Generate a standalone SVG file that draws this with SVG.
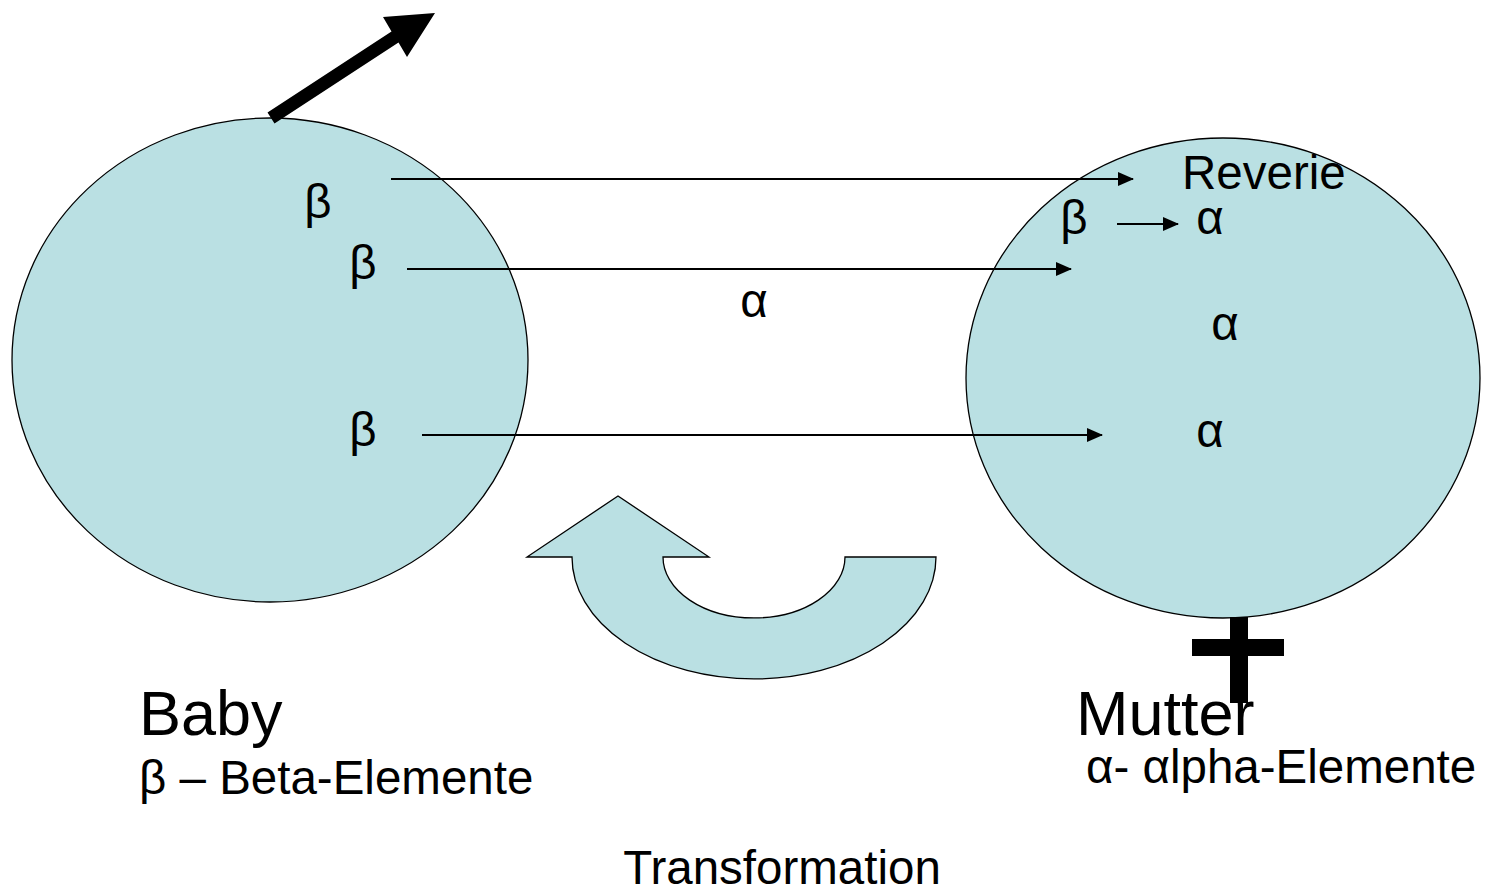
<svg xmlns="http://www.w3.org/2000/svg" width="1488" height="896" viewBox="0 0 1488 896">
<defs>
<style>
.blob{fill:#bae0e3;stroke:#000;stroke-width:1.3}
.t{font-family:"Liberation Sans",Arial,sans-serif;fill:#000}
.g{font-size:47.5px}
.m{font-size:47.5px;text-anchor:middle}
.big{font-size:63px}
.conn{stroke:#000;stroke-width:2;fill:none;marker-end:url(#ah)}
</style>
<marker id="ah" viewBox="0 0 16 14" refX="15" refY="7" markerWidth="16" markerHeight="14" markerUnits="userSpaceOnUse" orient="auto">
<path d="M0,0 L16,7 L0,14 Z" fill="#000"/>
</marker>
</defs>
<rect width="1488" height="896" fill="#fff"/>
<g id="baby">
<ellipse class="blob" cx="270" cy="360" rx="258" ry="242"/>
<text class="t m" x="318" y="218">β</text>
<text class="t m" x="363" y="279">β</text>
<text class="t m" x="363" y="446">β</text>
<text class="t big" x="139" y="735">Baby</text>
<text class="t g" x="139" y="794">β – Beta-Elemente</text>
</g>
<g id="mutter">
<ellipse class="blob" cx="1223" cy="378" rx="257" ry="240"/>
<text class="t g" x="1182" y="189">Reverie</text>
<text class="t m" x="1074" y="234">β</text>
<text class="t m" x="1210" y="234">α</text>
<text class="t m" x="1225" y="340">α</text>
<text class="t m" x="1210" y="447">α</text>
<text class="t big" x="1076" y="735">Mutter</text>
<text class="t g" x="1086" y="783">α- αlpha-Elemente</text>
<rect x="1230" y="617" width="18" height="86" fill="#000"/>
<rect x="1192" y="639" width="92" height="17" fill="#000"/>
</g>
<g id="outarrow">
<polygon points="267.5,112.5 391.5,31.5 383,17 435,13 407,57 398.5,42.5 274.5,123.5" fill="#000"/>
</g>
<g id="transformation">
<path class="blob" d="M572,557 L527,557 L618,496 L709,557 L663,557 A91,61 0 0 0 845,557 L936,557 A182,122 0 0 1 572,557 Z"/>
<text class="t m" x="782" y="884">Transformation</text>
</g>
<g id="connectors">
<line class="conn" x1="391" y1="179" x2="1133" y2="179"/>
<line class="conn" x1="407" y1="269" x2="1071" y2="269"/>
<line class="conn" x1="422" y1="435" x2="1102" y2="435"/>
<line class="conn" x1="1117" y1="224" x2="1178" y2="224"/>
<text class="t m" x="754" y="317">α</text>
</g>
</svg>
